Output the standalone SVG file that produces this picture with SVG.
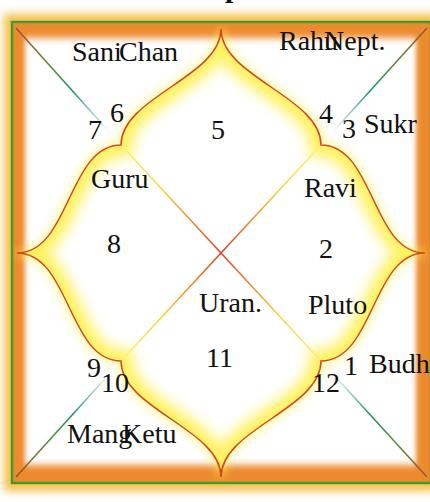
<svg xmlns="http://www.w3.org/2000/svg" xmlns:xlink="http://www.w3.org/1999/xlink" width="430" height="502" viewBox="0 0 430 502">
<style>
  text { font-family: "Liberation Serif", "Times New Roman", serif; font-size: 28px; fill: #111; }
  .title { font-weight: bold; font-size: 30px; }
  .curve { fill: none; stroke: #cf4a20; stroke-width: 1.5; }
  .glow { fill: none; stroke: #fff04e; }
  .diag { fill: none; stroke-width: 1.6; }
</style>
<defs>
  <filter id="b4g" x="-20%" y="-20%" width="140%" height="140%"><feGaussianBlur stdDeviation="4"/></filter>
  <filter id="b7" x="-20%" y="-20%" width="140%" height="140%"><feGaussianBlur stdDeviation="7"/></filter>
  <filter id="b4" x="-20%" y="-20%" width="140%" height="140%"><feGaussianBlur stdDeviation="4"/></filter>
  <filter id="inner" x="-10%" y="-10%" width="120%" height="120%"><feGaussianBlur stdDeviation="2.5 3.5"/></filter>
  <path id="shape" d="M221,29 C221,77 121,97 121,145 C68,145 70,253 17,253 C70,253 68,361 121,361 C121,409 221,429 221,477 C221,429 321,409 321,361 C374,361 372,253 425,253 C372,253 374,145 321,145 C321,97 221,77 221,29 Z"/>
  <clipPath id="inside"><use xlink:href="#shape"/></clipPath>
  <linearGradient id="dg1" gradientUnits="userSpaceOnUse" x1="16" y1="28" x2="121" y2="145">
    <stop offset="0" stop-color="#a0522d"/>
    <stop offset="0.3" stop-color="#5e8a3a"/>
    <stop offset="0.55" stop-color="#1c9466"/>
    <stop offset="0.8" stop-color="#8fd0bb" stop-opacity="0.6"/>
    <stop offset="0.92" stop-color="#ffffff" stop-opacity="0"/>
  </linearGradient>
  <linearGradient id="dg2" xlink:href="#dg1" x1="427" y1="28" x2="321" y2="145"/>
  <linearGradient id="dg3" xlink:href="#dg1" x1="16" y1="477" x2="121" y2="361"/>
  <linearGradient id="dg4" xlink:href="#dg1" x1="427" y1="477" x2="321" y2="361"/>
  <linearGradient id="xg1" gradientUnits="userSpaceOnUse" x1="121" y1="145" x2="321" y2="361">
    <stop offset="0" stop-color="#fff27a"/>
    <stop offset="0.2" stop-color="#f6d83a"/>
    <stop offset="0.5" stop-color="#d8402c"/>
    <stop offset="0.8" stop-color="#f6d83a"/>
    <stop offset="1" stop-color="#fff27a"/>
  </linearGradient>
  <linearGradient id="xg2" xlink:href="#xg1" x1="321" y1="145" x2="121" y2="361"/>
</defs>

<rect x="0" y="0" width="430" height="502" fill="#ffffff"/>

<g id="title"><text class="title" x="225" y="-3">p</text></g>

<g id="frame">
  <rect x="12" y="22" width="419" height="461" fill="none" stroke="#f6c048" stroke-width="16" filter="url(#b4)"/>
  <rect x="12" y="22" width="419" height="461" fill="#ec8a2e"/>
  <rect x="25" y="38" width="391" height="427" fill="#ffffff" filter="url(#inner)"/>
  <g clip-path="url(#inside)">
    <use xlink:href="#shape" class="glow" stroke-width="24" opacity="0.85" filter="url(#b7)"/>
  </g>
  <use xlink:href="#shape" class="glow" stroke-width="8" opacity="0.5" filter="url(#b4g)"/>
  <rect x="12" y="22" width="419" height="461" fill="none" stroke="#3d9b2f" stroke-width="2.4"/>
</g>

<g id="connectors">
  <line class="diag" x1="16" y1="28" x2="121" y2="145" stroke="url(#dg1)"/>
  <line class="diag" x1="427" y1="28" x2="321" y2="145" stroke="url(#dg2)"/>
  <line class="diag" x1="16" y1="477" x2="121" y2="361" stroke="url(#dg3)"/>
  <line class="diag" x1="427" y1="477" x2="321" y2="361" stroke="url(#dg4)"/>
  <line class="diag" x1="121" y1="145" x2="321" y2="361" stroke="url(#xg1)"/>
  <line class="diag" x1="321" y1="145" x2="121" y2="361" stroke="url(#xg2)"/>
  <use xlink:href="#shape" class="curve"/>
</g>

<g id="house1"><text x="344" y="375">1</text><text x="369" y="373">Budh</text></g>
<g id="house2"><text x="319" y="258">2</text><text x="304" y="197">Ravi</text><text x="308" y="314">Pluto</text></g>
<g id="house3"><text x="342" y="138">3</text><text x="364" y="133">Sukr</text></g>
<g id="house4"><text x="319" y="123">4</text><text x="279" y="50">Rahu</text><text x="324" y="50">Nept.</text></g>
<g id="house5"><text x="211" y="139">5</text></g>
<g id="house6"><text x="110" y="122">6</text><text x="72" y="61">Sani</text><text x="119" y="61">Chan</text></g>
<g id="house7"><text x="88" y="139">7</text></g>
<g id="house8"><text x="107" y="253">8</text><text x="91" y="188">Guru</text></g>
<g id="house9"><text x="87" y="377">9</text></g>
<g id="house10"><text x="101" y="392">10</text><text x="67" y="443">Mang</text><text x="122" y="443">Ketu</text></g>
<g id="house11"><text x="206" y="367">11</text><text x="199" y="312">Uran.</text></g>
<g id="house12"><text x="312" y="392">12</text></g>
</svg>
